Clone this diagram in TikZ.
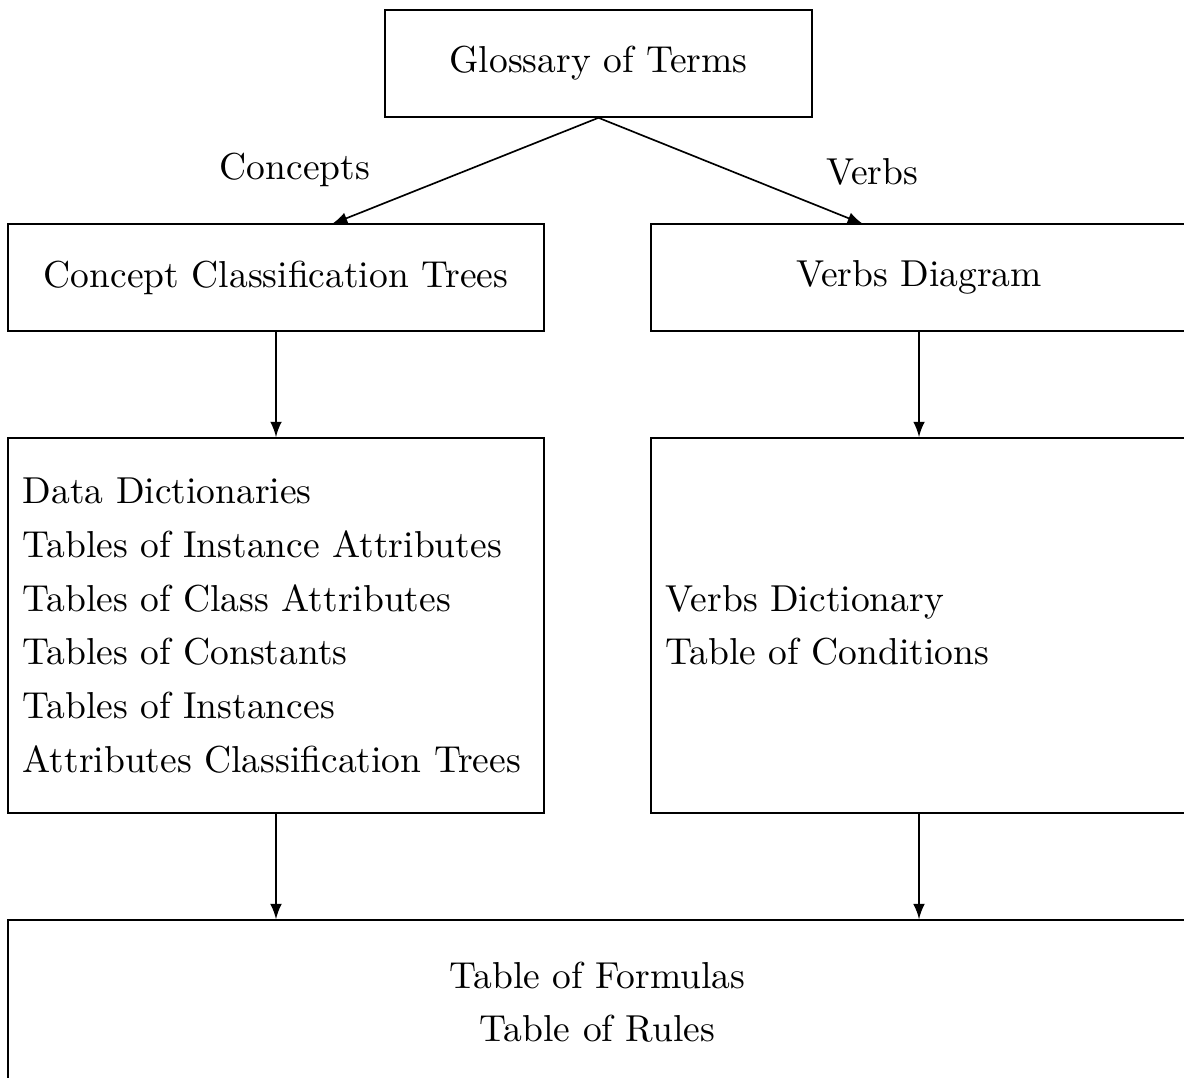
\documentclass[tikz,border=0pt]{standalone}
\usetikzlibrary{calc}
\begin{document}
\begin{tikzpicture}[x=0.2703pt,y=-0.2703pt,
  every node/.style={font=\fontsize{10.14pt}{12.2pt}\selectfont},
  box/.style={draw,line width=0.45pt,minimum width=144.9pt,minimum height=28.9pt},
  listbox/.style={draw,line width=0.45pt,minimum width=144.9pt,minimum height=101.4pt,inner xsep=4pt,text width=136.9pt,align=left},
  conn/.style={-latex,line width=0.45pt},
  lbl/.style={inner sep=0pt}]
\useasboundingbox (0,0) rectangle (1184,1077);
\node[draw,line width=0.45pt,minimum width=115.4pt,minimum height=28.9pt] (gl) at (598.5,63.5) {Glossary of Terms};
\node[box] (cct) at (276,277.5) {Concept Classification Trees};
\node[box] (vd) at (919,277.5) {Verbs Diagram};
\node[listbox] (dd) at (276,625.5) {Data Dictionaries\\[2.3pt]Tables of Instance Attributes\\[2.3pt]Tables of Class Attributes\\[2.3pt]Tables of Constants\\[2.3pt]Tables of Instances\\[2.3pt]Attributes Classification Trees};
\node[listbox] (vdic) at (919,625.5) {Verbs Dictionary\\[2.3pt]Table of Conditions};
\node[draw,line width=0.45pt,minimum width=318.7pt,minimum height=44.3pt,align=center] (tf) at (597.5,1002) {Table of Formulas\\[2.3pt]Table of Rules};
\coordinate (ca) at (332,224);
\coordinate (va) at (863,224);
\draw[conn] (gl.south) -- (ca);
\draw[conn] (gl.south) -- (va);
\node[lbl] (lc) at (295,169.5) {Concepts};
\node[lbl] (lv) at (872,171.5) {Verbs};
\draw[conn] (cct.south) -- (dd.north);
\draw[conn] (vd.south) -- (vdic.north);
\draw[conn] (dd.south) -- (dd.south |- tf.north);
\draw[conn] (vdic.south) -- (vdic.south |- tf.north);
\end{tikzpicture}
\end{document}
